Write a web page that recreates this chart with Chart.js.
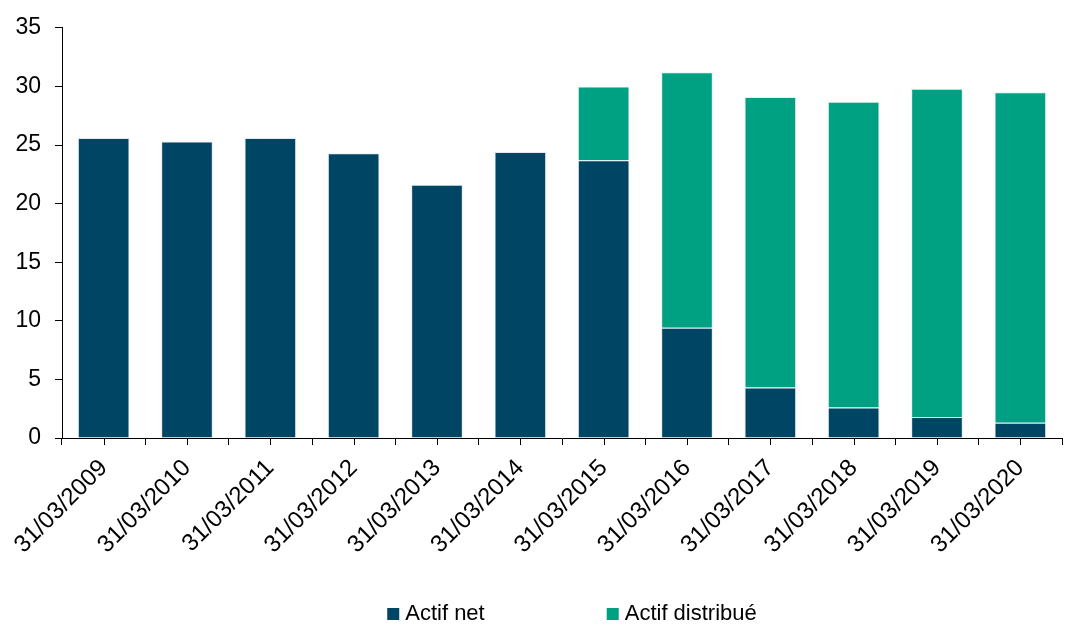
<!DOCTYPE html>
<html>
<head>
<meta charset="utf-8">
<script src="https://cdn.jsdelivr.net/npm/chart.js@4"></script>
<style>
  html, body { margin: 0; padding: 0; background: #fff; }
  #wrap { width: 1076px; height: 625px; position: relative; }
</style>
</head>
<body>
<div id="wrap"><canvas id="myChartCanvas"></canvas></div>
<script>
const dates = ['31/03/2009', '31/03/2010', '31/03/2011', '31/03/2012', '31/03/2013', '31/03/2014',
               '31/03/2015', '31/03/2016', '31/03/2017', '31/03/2018', '31/03/2019', '31/03/2020'];
const actifNet = [25.6, 25.3, 25.6, 24.3, 21.6, 24.4, 23.7, 9.4, 4.3, 2.6, 1.8, 1.3];
const actifDistribue = [null, null, null, null, null, null, 6.3, 21.8, 24.8, 26.1, 28.0, 28.2];
const yTicks = [0, 5, 10, 15, 20, 25, 30, 35];

const police = '"Liberation Sans", Arial, sans-serif';
const bleu = '#004563';
const vert = '#00A182';

Chart.defaults.font.family = police;
Chart.defaults.color = '#000';

// petits traits au centre de chaque categorie (comme Excel)
const traitsCentre = {
    id: 'traitsCentre',
    afterDraw(chart) {
        const {ctx} = chart;
        const x = chart.scales.x;
        ctx.save();
        ctx.strokeStyle = '#000';
        ctx.lineWidth = 1;
        ctx.beginPath();
        dates.forEach((d, i) => {
            const px = Math.round(x.getPixelForValue(i)) + 0.5;
            ctx.moveTo(px, x.top);
            ctx.lineTo(px, x.top + 7);
        });
        ctx.stroke();
        ctx.restore();
    }
};

// legende dessinee a la main pour avoir le grand espacement
const legendeBas = {
    id: 'legendeBas',
    afterDraw(chart) {
        const {ctx} = chart;
        ctx.save();
        ctx.font = '22px ' + police;
        ctx.textBaseline = 'alphabetic';
        const box = 12, gapTexte = 6, gapItems = 122;
        const items = chart.data.datasets.map(ds => ({label: ds.label, color: ds.backgroundColor}));
        let total = 0;
        items.forEach((it, i) => {
            it.w = box + gapTexte + ctx.measureText(it.label).width;
            total += it.w + (i > 0 ? gapItems : 0);
        });
        let x = 572 - total / 2;
        const yBase = 620;
        items.forEach(it => {
            ctx.fillStyle = it.color;
            ctx.fillRect(x, yBase - box, box, box);
            ctx.fillStyle = '#000';
            ctx.fillText(it.label, x + box + gapTexte, yBase);
            x += it.w + gapItems;
        });
        ctx.restore();
    }
};

new Chart(myChartCanvas, {
    type: 'bar',
    data: {
        labels: dates,
        datasets: [{
            label: 'Actif net',
            data: actifNet,
            backgroundColor: bleu,
            borderColor: 'rgba(200,220,230,0.55)',
            borderWidth: 1,
            categoryPercentage: 1,
            barPercentage: 0.62
        },
        {
            label: 'Actif distribué',
            data: actifDistribue,
            backgroundColor: vert,
            borderColor: 'rgba(200,240,230,0.6)',
            borderWidth: 1,
            categoryPercentage: 1,
            barPercentage: 0.62
        }]
    },
    options: {
        responsive: true,
        maintainAspectRatio: false,
        animation: false,
        layout: {
            padding: { top: 14, right: 14, left: 0, bottom: 67 }
        },
        plugins: {
            legend: { display: false },
            tooltip: { enabled: false }
        },
        scales: {
            x: {
                stacked: true,
                afterFit(scale) { scale.height = 120; },
                grid: {
                    offset: true,
                    drawOnChartArea: false,
                    tickLength: 7,
                    color: '#000'
                },
                border: { color: '#000', width: 1 },
                ticks: {
                    color: '#000',
                    font: { size: 24 },
                    minRotation: 45,
                    maxRotation: 45,
                    padding: 9
                }
            },
            y: {
                stacked: true,
                min: 0,
                max: 35,
                afterFit(scale) { scale.width = 62; },
                afterBuildTicks(scale) { scale.ticks = yTicks.map(v => ({value: v})); },
                grid: {
                    drawOnChartArea: false,
                    tickLength: 7,
                    color: '#000'
                },
                border: { color: '#000', width: 1 },
                ticks: {
                    color: '#000',
                    font: { size: 23 },
                    padding: 14
                }
            }
        }
    },
    plugins: [traitsCentre, legendeBas]
});
</script>
</body>
</html>
